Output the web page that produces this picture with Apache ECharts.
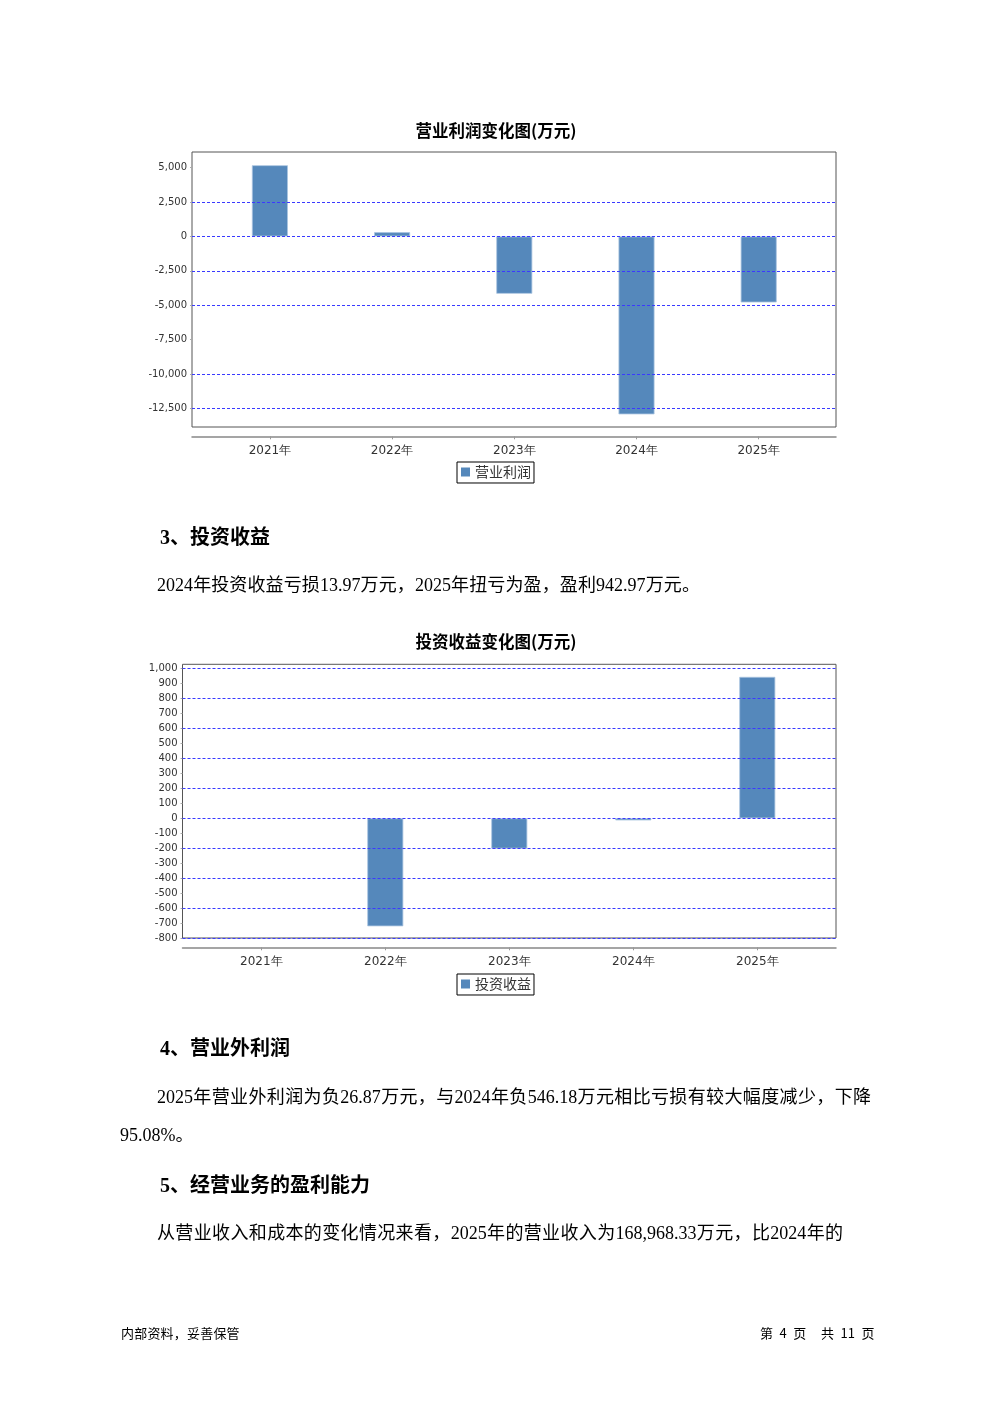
<!DOCTYPE html>
<html>
<head>
<meta charset="utf-8">
<script src="https://cdn.jsdelivr.net/npm/echarts@6/dist/echarts.min.js"></script>
<style>
  html, body { margin: 0; padding: 0; background: #fff; }
  #page { position: relative; width: 992px; height: 1403px; overflow: hidden; background: #fff; }
  #chart { position: absolute; left: 0; top: 0; width: 992px; height: 1403px; }
  .t { position: absolute; white-space: nowrap; color: #000; line-height: 24px; height: 24px;
       font-family: "Liberation Serif", "Noto Sans CJK SC", serif; font-size: 18px; }
  .h { font-size: 20px; font-weight: bold; }
  .j { text-align: justify; text-align-last: justify; }
  .f { font-family: "Noto Sans CJK SC", sans-serif; font-size: 13px; line-height: 18px; height: 18px; }
</style>
</head>
<body>
<div id="page">
  <div id="chart"></div>
  <div class="t h" style="left:160px; top:525px;">3、投资收益</div>
  <div class="t j" style="left:157px; top:573px; width:543px;">2024年投资收益亏损13.97万元，2025年扭亏为盈，盈利942.97万元。</div>
  <div class="t h" style="left:160px; top:1036px;">4、营业外利润</div>
  <div class="t j" style="left:157px; top:1085px; width:714px;">2025年营业外利润为负26.87万元，与2024年负546.18万元相比亏损有较大幅度减少，下降</div>
  <div class="t" style="left:120px; top:1123px;">95.08%。</div>
  <div class="t h" style="left:160px; top:1173px;">5、经营业务的盈利能力</div>
  <div class="t j" style="left:157px; top:1221px; width:686px;">从营业收入和成本的变化情况来看，2025年的营业收入为168,968.33万元，比2024年的</div>
  <div class="t f" style="left:121px; top:1324px; letter-spacing:0.2px;">内部资料，妥善保管</div>
  <div class="t f" style="left:760px; top:1324px;">第&ensp;4&ensp;页</div>
  <div class="t f" style="left:821px; top:1324px;">共&ensp;11&ensp;页</div>
</div>
<script>
// ---- data ----
const years = ['2021年', '2022年', '2023年', '2024年', '2025年'];
const opProfit = [5180, 310, -4170, -12940, -4800];          // 营业利润 (万元)
const invIncome = [null, -720, -202, -13.97, 942.97];         // 投资收益 (万元)
const opTickMin = -12500, opTickMax = 5000, opTickStep = 2500;
const opGridLines = [2500, 0, -2500, -5000, -10000, -12500];
const invTickMin = -800, invTickMax = 1000, invTickStep = 100;
const invGridLines = [1000, 800, 600, 400, 200, 0, -200, -400, -600, -800];

// ---- styles ----
const barColor = '#5588bb';
const gridLineStyle = { type: [3, 2], color: '#3a3aff', width: 1 };
const fmt = v => Number(v).toLocaleString('en-US');
const yLabel = { fontFamily: 'DejaVu Sans', fontSize: 10, color: '#333', margin: 5 };
const xLabel = { fontFamily: 'DejaVu Sans', fontSize: 12, color: '#333', margin: 9 };
const titleStyle = { fontFamily: 'Noto Sans CJK SC', fontSize: 16.5, fontWeight: 'bold', color: '#000' };
const legendBase = {
  orient: 'horizontal', icon: 'rect', itemWidth: 9, itemHeight: 9,
  borderColor: '#000', borderWidth: 1, padding: [3, 3, 4, 4],
  itemStyle: { borderWidth: 0 },
  textStyle: { fontFamily: 'Noto Sans CJK SC', fontSize: 14, color: '#333' }
};

function hiddenAxis(gridIndex) {
  return { type: 'value', gridIndex, show: false, min: 0, max: 1 };
}
function markLineSeries(name, xi, yi, lines) {
  return {
    name, type: 'line', xAxisIndex: xi, yAxisIndex: yi, data: [[0, 0]],
    symbol: 'none', lineStyle: { opacity: 0 }, silent: true, z: 1,
    markLine: {
      silent: true, symbol: ['none', 'none'], animation: false,
      label: { show: false }, lineStyle: gridLineStyle,
      data: lines.map(v => ({ yAxis: v }))
    }
  };
}

const chart = echarts.init(document.getElementById('chart'), null, { renderer: 'canvas' });
chart.setOption({
  animation: false,
  backgroundColor: 'transparent',
  title: [
    { text: '营业利润变化图(万元)', left: 'center', top: 117, textStyle: titleStyle },
    { text: '投资收益变化图(万元)', left: 'center', top: 628, textStyle: titleStyle }
  ],
  legend: [
    Object.assign({ data: ['营业利润'], left: 457, top: 462 }, legendBase),
    Object.assign({ data: ['投资收益'], left: 457, top: 974 }, legendBase)
  ],
  grid: [
    // chart 1
    { left: 192, top: 152, width: 644, height: 275, show: true, borderColor: '#555', borderWidth: 1, backgroundColor: '#fff' },
    { left: 192, top: 167.7, width: 644, height: 240.6 },
    { left: 208.8, top: 167.7, width: 611, height: 240.6 },
    // chart 2
    { left: 182.5, top: 664.3, width: 653.5, height: 273.7, show: true, borderColor: '#555', borderWidth: 1, backgroundColor: '#fff' },
    { left: 182.5, top: 668.3, width: 653.5, height: 270 },
    { left: 199.3, top: 668.3, width: 620, height: 270 }
  ],
  xAxis: [
    hiddenAxis(0),
    { type: 'value', gridIndex: 1, min: 0, max: 1, position: 'bottom', offset: 28,
      axisLine: { show: true, onZero: false, lineStyle: { color: '#888', width: 1.5 } },
      axisTick: { show: false }, axisLabel: { show: false }, splitLine: { show: false } },
    { type: 'category', gridIndex: 2, data: years, position: 'bottom', offset: 28,
      axisLine: { show: false, onZero: false },
      axisTick: { show: true, alignWithLabel: true, length: 3, lineStyle: { color: '#999' } },
      axisLabel: xLabel, splitLine: { show: false } },
    hiddenAxis(3),
    { type: 'value', gridIndex: 4, min: 0, max: 1, position: 'bottom', offset: 9,
      axisLine: { show: true, onZero: false, lineStyle: { color: '#888', width: 1.5 } },
      axisTick: { show: false }, axisLabel: { show: false }, splitLine: { show: false } },
    { type: 'category', gridIndex: 5, data: years, position: 'bottom', offset: 9,
      axisLine: { show: false, onZero: false },
      axisTick: { show: true, alignWithLabel: true, length: 3, lineStyle: { color: '#999' } },
      axisLabel: xLabel, splitLine: { show: false } }
  ],
  yAxis: [
    hiddenAxis(0),
    { type: 'value', gridIndex: 1, min: opTickMin, max: opTickMax, interval: opTickStep,
      axisLine: { show: false, onZero: false },
      axisTick: { show: true, length: 2, lineStyle: { color: '#aaa' } },
      axisLabel: Object.assign({ formatter: fmt }, yLabel), splitLine: { show: false } },
    { type: 'value', gridIndex: 2, min: opTickMin, max: opTickMax, interval: opTickStep, show: false },
    hiddenAxis(3),
    { type: 'value', gridIndex: 4, min: invTickMin, max: invTickMax, interval: invTickStep,
      axisLine: { show: false, onZero: false },
      axisTick: { show: true, length: 2, lineStyle: { color: '#aaa' } },
      axisLabel: Object.assign({ formatter: fmt }, yLabel), splitLine: { show: false } },
    { type: 'value', gridIndex: 5, min: invTickMin, max: invTickMax, interval: invTickStep, show: false }
  ],
  series: [
    markLineSeries('grid1', 1, 1, opGridLines),
    { name: '营业利润', type: 'bar', xAxisIndex: 2, yAxisIndex: 2, data: opProfit,
      barWidth: 36, clip: false, z: 3,
      itemStyle: { color: barColor, borderColor: '#a9c4e0', borderWidth: 0.8 } },
    markLineSeries('grid2', 4, 4, invGridLines),
    { name: '投资收益', type: 'bar', xAxisIndex: 5, yAxisIndex: 5, data: invIncome,
      barWidth: 36, clip: false, z: 3,
      itemStyle: { color: barColor, borderColor: '#a9c4e0', borderWidth: 0.8 } }
  ]
});
</script>
</body>
</html>
